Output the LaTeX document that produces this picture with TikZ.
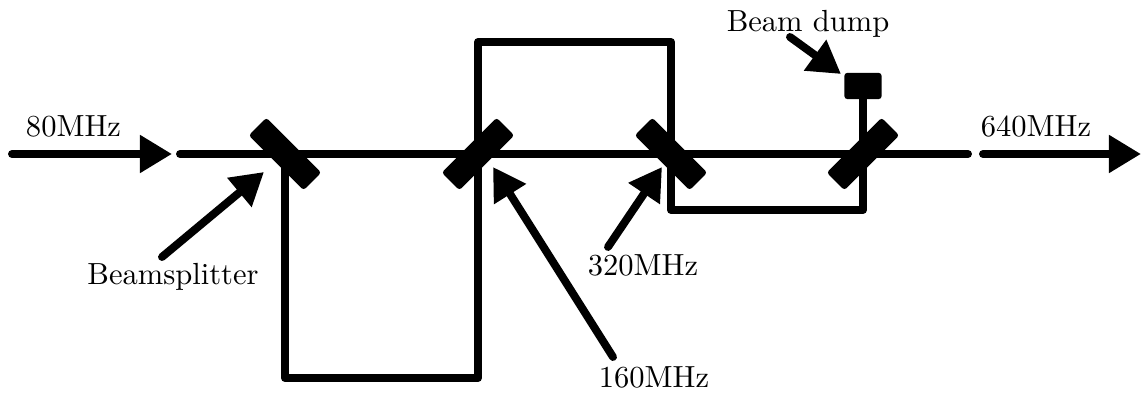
\documentclass[tikz,border=0pt]{standalone}
\usetikzlibrary{arrows.meta}
\begin{document}
\begin{tikzpicture}[x=0.0115cm,y=0.0115cm,line width=2.6pt,line cap=round,line join=round,
beam/.style={draw},
pulse/.style={draw,-{Triangle[length=10.5pt,width=11.8pt]}},
splitter/.style={fill=black,rounded corners=1pt,inner sep=0pt,minimum width=25.4pt,minimum height=8.2pt},
dump/.style={fill=black,rounded corners=1pt,inner sep=0pt,minimum width=12.2pt,minimum height=8.6pt},
label/.style={inner sep=0pt,anchor=base}]
\useasboundingbox (0,0) rectangle (1144,-394);
\node[splitter,rotate=-45] (bsa) at (285,-154) {};
\node[splitter,rotate=45] (bsb) at (478,-154) {};
\node[splitter,rotate=-45] (bsc) at (671,-154) {};
\node[splitter,rotate=45] (bsd) at (863,-154) {};
\node[dump] (beamdump) at (863,-86) {};

\node[label] (inlabel) at (73.5,-137) {80MHz};
\node[label] (outlabel) at (1036,-137) {640MHz};
\node[label] (dumplabel) at (808,-32) {Beam dump};
\node[label] (splitlabel) at (173,-285) {Beamsplitter};
\node[label] (thirdlabel) at (643,-276) {320MHz};
\node[label] (secondlabel) at (654,-388) {160MHz};

\coordinate (instart) at (12,-154);
\coordinate (inend) at (172,-154);
\coordinate (linestart) at (180,-154);
\coordinate (lineend) at (968,-154);
\coordinate (outstart) at (983,-154);
\coordinate (outend) at (1141,-154);
\coordinate (loopa) at (478,-378);
\coordinate (loopb) at (671,-42);
\coordinate (loopc) at (863,-210);

\draw[pulse] (instart) -- (inend);
\draw[beam] (linestart) -- (lineend);
\draw[pulse] (outstart) -- (outend);
\draw[beam] (bsa.center) |- (loopa) -- (bsb.center);
\draw[beam] (bsb.center) |- (loopb) -- (bsc.center);
\draw[beam] (bsc.center) |- (loopc) -- (bsd.center);
\draw[beam] (bsd.center) -- (beamdump.center);

\coordinate (splitfrom) at (162,-257);
\coordinate (splitto) at (264,-172);
\coordinate (secondfrom) at (613,-357);
\coordinate (secondto) at (493,-167);
\coordinate (thirdfrom) at (608,-247);
\coordinate (thirdto) at (662,-167);
\coordinate (dumpfrom) at (790,-37);
\coordinate (dumpto) at (841,-74);

\draw[pulse] (splitfrom) -- (splitto);
\draw[pulse] (secondfrom) -- (secondto);
\draw[pulse] (thirdfrom) -- (thirdto);
\draw[pulse] (dumpfrom) -- (dumpto);

\end{tikzpicture}
\end{document}
